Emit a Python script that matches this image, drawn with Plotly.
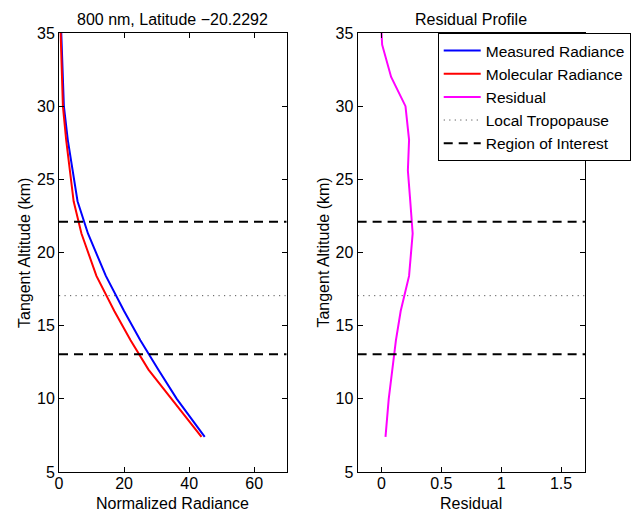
import plotly.graph_objects as go
from plotly.subplots import make_subplots

# ---- data ----
altitude_km = [35, 34.2, 32, 30, 27.7, 25.6, 23.5, 21.3, 18.4, 16, 14, 12, 10, 7.4]
measured_radiance = [0.7, 0.8, 1.1, 1.5, 2.7, 4.1, 5.7, 8.9, 14.4, 20.0, 25.0, 30.5, 36.2, 44.8]
molecular_radiance = [0.5, 0.6, 0.9, 1.2, 2.2, 3.3, 4.5, 6.9, 11.5, 17.0, 22.0, 27.5, 34.5, 43.8]
residual = [0.0, 0.005, 0.08, 0.20, 0.23, 0.22, 0.24, 0.26, 0.23, 0.16, 0.12, 0.088, 0.06, 0.033]
tropopause_km = 17.05
roi_bounds_km = [13.05, 22.1]

left_xrange = [0, 70]
right_xrange = [-0.2, 1.7]
yrange = [5, 35]
left_xticks = [0, 20, 40, 60]
right_xticks = [0, 0.5, 1, 1.5]
right_xticklabels = ["0", "0.5", "1", "1.5"]
yticks = [5, 10, 15, 20, 25, 30, 35]

left_title = "800 nm, Latitude \u221220.2292"
right_title = "Residual Profile"

FONT = "Liberation Sans, Arial, Helvetica, sans-serif"
FS = 16

fig = make_subplots(rows=1, cols=2, horizontal_spacing=0.135)
fig.update_layout(
    xaxis=dict(domain=[0, 0.4329]),
    xaxis2=dict(domain=[0.5677, 1.0]),
)

fig.add_trace(go.Scatter(x=measured_radiance, y=altitude_km, mode="lines",
                         line=dict(color="#0000ff", width=2), name="Measured Radiance"), row=1, col=1)
fig.add_trace(go.Scatter(x=molecular_radiance, y=altitude_km, mode="lines",
                         line=dict(color="#ff0000", width=2), name="Molecular Radiance"), row=1, col=1)
fig.add_trace(go.Scatter(x=residual, y=altitude_km, mode="lines",
                         line=dict(color="#ff00ff", width=2), name="Residual"), row=1, col=2)

for col, xr in ((1, left_xrange), (2, right_xrange)):
    fig.add_trace(go.Scatter(x=xr, y=[tropopause_km, tropopause_km], mode="lines",
                             line=dict(color="#555555", width=1, dash="1.2px,4.3px"),
                             name="Local Tropopause", showlegend=(col == 1)), row=1, col=col)
    for i, b in enumerate(roi_bounds_km):
        fig.add_trace(go.Scatter(x=xr, y=[b, b], mode="lines",
                                 line=dict(color="black", width=2, dash="9px,6px"),
                                 name="Region of Interest",
                                 showlegend=(col == 1 and i == 0)), row=1, col=col)

axis_common = dict(showline=True, linecolor="black", linewidth=1, mirror="ticks",
                   ticks="inside", ticklen=5, tickcolor="black", showgrid=False,
                   zeroline=False, tickfont=dict(family=FONT, size=FS, color="black"))

fig.update_xaxes(range=left_xrange, tickvals=left_xticks, row=1, col=1,
                 ticklabelstandoff=-3, **axis_common)
fig.update_xaxes(range=right_xrange, tickvals=right_xticks, ticktext=right_xticklabels,
                 row=1, col=2, ticklabelstandoff=-3, **axis_common)
fig.update_yaxes(range=yrange, tickvals=yticks, **axis_common)

annotations = [
    dict(text=left_title, x=0.2164, y=1.0, xref="paper", yref="paper", yanchor="bottom",
         yshift=3, showarrow=False),
    dict(text=right_title, x=0.7838, y=1.0, xref="paper", yref="paper", yanchor="bottom",
         yshift=3, showarrow=False),
    dict(text="Normalized Radiance", x=0.2164, y=0, xref="paper", yref="paper", yanchor="top",
         yshift=-21, showarrow=False),
    dict(text="Residual", x=0.7838, y=0, xref="paper", yref="paper", yanchor="top",
         yshift=-21, showarrow=False),
    dict(text="Tangent Altitude (km)", x=0, y=0.5, xref="paper", yref="paper",
         xanchor="right", xshift=-24, textangle=-90, showarrow=False),
    dict(text="Tangent Altitude (km)", x=0.5677, y=0.5, xref="paper", yref="paper",
         xanchor="right", xshift=-24, textangle=-90, showarrow=False),
]
for a in annotations:
    a["font"] = dict(family=FONT, size=FS, color="black")
    a.setdefault("xanchor", "center")
fig.update_layout(annotations=annotations)

fig.update_layout(
    width=643, height=513,
    margin=dict(l=59, r=55, t=33, b=41),
    paper_bgcolor="white", plot_bgcolor="white",
    font=dict(family=FONT, size=FS, color="black"),
    showlegend=True,
    legend=dict(x=0.72, y=1.0, xanchor="left", yanchor="top",
                bgcolor="white", bordercolor="black", borderwidth=1,
                font=dict(family=FONT, size=15.5, color="black"),
                tracegroupgap=0, itemwidth=37),
)

fig.write_html("out.html", post_script="document.body.style.margin='0';",
               config={"displayModeBar": False})
